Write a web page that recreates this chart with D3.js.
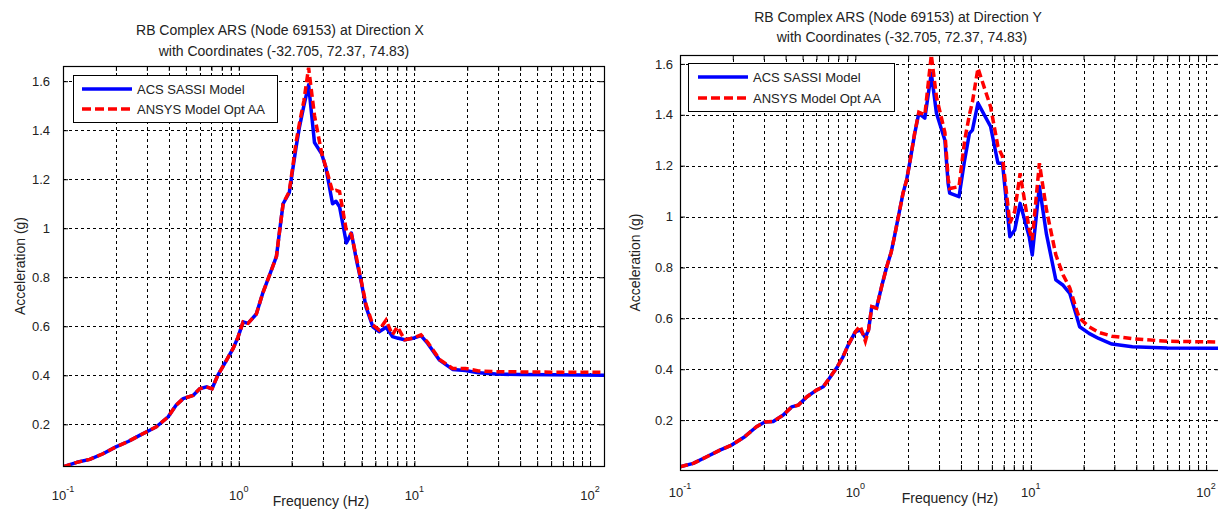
<!DOCTYPE html>
<html><head><meta charset="utf-8">
<script src="https://cdn.jsdelivr.net/npm/d3@7"></script>
<style>
body{margin:0;background:#fff;}
svg{display:block;font-family:"Liberation Sans",Arial,sans-serif;}
</style></head><body>
<svg id="c" width="1218" height="525"></svg>
<script>
// ---------- data ----------
const seriesNames = ["ACS SASSI Model", "ANSYS Model Opt AA"];
const titleX = ["RB Complex ARS (Node 69153) at Direction X", "with Coordinates (-32.705, 72.37, 74.83)"];
const titleY = ["RB Complex ARS (Node 69153) at Direction Y", "with Coordinates (-32.705, 72.37, 74.83)"];
const xLabel = "Frequency (Hz)";
const yLabel = "Acceleration (g)";
const yTickValues = [0.2, 0.4, 0.6, 0.8, 1, 1.2, 1.4, 1.6];
const yTickLabels = ["0.2", "0.4", "0.6", "0.8", "1", "1.2", "1.4", "1.6"];
const xMajorTicks = [0.1, 1, 10, 100];
const xMajorExponents = ["-1", "0", "1", "2"];

// Direction X
const freqX = [0.1, 0.12, 0.142, 0.169, 0.2, 0.235, 0.273, 0.31, 0.34, 0.396, 0.44, 0.483, 0.55, 0.6, 0.655, 0.705, 0.76, 0.85, 0.93, 0.99, 1.06, 1.13, 1.26, 1.37, 1.5, 1.64, 1.71, 1.79, 1.94, 2.03, 2.12, 2.22, 2.35, 2.5, 2.7, 2.96, 3.13, 3.42, 3.58, 3.75, 4.1, 4.38, 4.68, 5.0, 5.3, 5.8, 6.3, 6.9, 7.5, 8.0, 8.8, 9.8, 10.9, 11.9, 13.9, 16.5, 19.5, 23.2, 29, 40, 60, 90, 120];
const sassiX = [0.027, 0.045, 0.057, 0.08, 0.108, 0.13, 0.155, 0.175, 0.19, 0.23, 0.278, 0.305, 0.318, 0.345, 0.353, 0.345, 0.40, 0.46, 0.51, 0.555, 0.618, 0.612, 0.65, 0.735, 0.81, 0.885, 0.99, 1.10, 1.145, 1.24, 1.33, 1.415, 1.5, 1.585, 1.35, 1.305, 1.25, 1.10, 1.11, 1.088, 0.94, 0.98, 0.87, 0.776, 0.68, 0.598, 0.578, 0.596, 0.558, 0.552, 0.545, 0.551, 0.562, 0.53, 0.462, 0.424, 0.42, 0.41, 0.405, 0.403, 0.402, 0.401, 0.40];
const ansysX = [0.027, 0.045, 0.057, 0.08, 0.108, 0.13, 0.155, 0.175, 0.19, 0.23, 0.278, 0.305, 0.318, 0.345, 0.353, 0.345, 0.40, 0.46, 0.51, 0.555, 0.618, 0.612, 0.65, 0.735, 0.81, 0.885, 0.99, 1.10, 1.15, 1.25, 1.35, 1.43, 1.52, 1.655, 1.46, 1.31, 1.25, 1.15, 1.155, 1.15, 0.99, 0.975, 0.88, 0.78, 0.69, 0.605, 0.585, 0.625, 0.565, 0.598, 0.545, 0.552, 0.565, 0.535, 0.465, 0.428, 0.428, 0.418, 0.415, 0.414, 0.413, 0.413, 0.412];

// Direction Y
const freqY = [0.1, 0.119, 0.142, 0.169, 0.197, 0.234, 0.273, 0.305, 0.34, 0.388, 0.433, 0.473, 0.53, 0.6, 0.656, 0.71, 0.79, 0.85, 0.91, 1.0, 1.065, 1.14, 1.19, 1.24, 1.32, 1.41, 1.51, 1.6, 1.67, 1.79, 1.87, 1.96, 2.04, 2.18, 2.3, 2.49, 2.71, 2.9, 3.24, 3.38, 3.45, 3.9, 4.2, 4.47, 4.65, 5.0, 5.9, 6.5, 6.9, 7.6, 8.1, 8.7, 9.8, 10.2, 11.2, 12.3, 13.9, 15.3, 16.7, 18.3, 19, 21.5, 24.4, 29, 38, 60, 120];
const sassiY = [0.017, 0.03, 0.056, 0.082, 0.102, 0.135, 0.174, 0.193, 0.195, 0.22, 0.252, 0.259, 0.292, 0.318, 0.331, 0.364, 0.41, 0.449, 0.495, 0.547, 0.555, 0.525, 0.556, 0.646, 0.64, 0.724, 0.803, 0.86, 0.921, 1.026, 1.092, 1.144, 1.21, 1.327, 1.406, 1.387, 1.563, 1.406, 1.30, 1.13, 1.092, 1.078, 1.223, 1.327, 1.34, 1.446, 1.354, 1.21, 1.21, 0.921, 0.947, 1.052, 0.921, 0.849, 1.118, 0.93, 0.751, 0.73, 0.698, 0.606, 0.567, 0.541, 0.521, 0.499, 0.488, 0.483, 0.482];
const ansysY = [0.017, 0.03, 0.056, 0.082, 0.102, 0.135, 0.174, 0.193, 0.195, 0.22, 0.252, 0.259, 0.292, 0.318, 0.331, 0.364, 0.41, 0.449, 0.495, 0.547, 0.57, 0.51, 0.556, 0.646, 0.64, 0.724, 0.803, 0.86, 0.921, 1.026, 1.092, 1.144, 1.21, 1.33, 1.41, 1.40, 1.635, 1.47, 1.33, 1.15, 1.11, 1.118, 1.30, 1.40, 1.45, 1.583, 1.432, 1.275, 1.236, 0.974, 1.02, 1.17, 0.95, 0.908, 1.21, 1.026, 0.85, 0.77, 0.72, 0.63, 0.60, 0.567, 0.545, 0.53, 0.52, 0.51, 0.507];

// ---------- drawing ----------
const svg = d3.select("#c");

const panels = [
  {freq: freqX, a: sassiX, b: ansysX, title: titleX,
   x0: 63, x1: 604, y0: 66, y1: 466, xDom: [0.1, 120], yDom: [0.03, 1.662],
   titleCx: 280, titleY1: 35, titleY2: 56, yTickX: 50, xTickY: 500,
   yLabelX: 25, xLabelCx: 321, xLabelY: 506,
   leg: {x: 73, y: 75, w: 204, h: 47, l0: 82, l1: 132, tx: 137, r1: 89, r2: 109}},
  {freq: freqY, a: sassiY, b: ansysY, title: titleY,
   x0: 680, x1: 1220, y0: 55, y1: 470, xDom: [0.1, 120], yDom: [0.004, 1.635],
   titleCx: 898, titleY1: 22, titleY2: 42, yTickX: 673, xTickY: 497,
   yLabelX: 640, xLabelCx: 950, xLabelY: 503,
   leg: {x: 688, y: 63, w: 206, h: 48, l0: 698, l1: 748, tx: 753, r1: 77, r2: 98}}
];

const minorTicks = [];
[0.1, 1, 10, 100].forEach(d => { for (let k = 1; k <= 9; k++) { const v = d * k; if (v <= 120) minorTicks.push(v); } });

panels.forEach((p, i) => {
  const x = d3.scaleLog().domain(p.xDom).range([p.x0, p.x1]);
  const y = d3.scaleLinear().domain(p.yDom).range([p.y1, p.y0]);
  const g = svg.append("g");

  const clipId = "clip" + i;
  svg.append("clipPath").attr("id", clipId).append("rect")
    .attr("x", p.x0).attr("y", p.y0).attr("width", p.x1 - p.x0).attr("height", p.y1 - p.y0);

  // grid
  const grid = g.append("g").attr("stroke", "#000").attr("stroke-width", 1).attr("stroke-dasharray", "3,3");
  grid.selectAll("line.v").data(minorTicks.filter(v => v > 0.1)).join("line")
    .attr("x1", d => Math.round(x(d)) + 0.5).attr("x2", d => Math.round(x(d)) + 0.5)
    .attr("y1", p.y1).attr("y2", p.y0);
  grid.selectAll("line.h").data(yTickValues).join("line")
    .attr("class", "h")
    .attr("y1", d => Math.round(y(d)) + 0.5).attr("y2", d => Math.round(y(d)) + 0.5)
    .attr("x1", p.x0).attr("x2", p.x1);

  // axes ticks (inward) via d3 axes
  const axB = d3.axisBottom(x).tickValues(minorTicks).tickSize(-5).tickSizeOuter(0).tickFormat("");
  const axT = d3.axisTop(x).tickValues(minorTicks).tickSize(-5).tickSizeOuter(0).tickFormat("");
  const axL = d3.axisLeft(y).tickValues(yTickValues).tickSize(-5).tickSizeOuter(0).tickFormat("");
  const axR = d3.axisRight(y).tickValues(yTickValues).tickSize(-5).tickSizeOuter(0).tickFormat("");
  [[axB, `translate(0,${p.y1})`], [axT, `translate(0,${p.y0})`], [axL, `translate(${p.x0},0)`], [axR, `translate(${p.x1},0)`]]
    .forEach(([ax, tr]) => {
      const a = g.append("g").attr("transform", tr).call(ax);
      a.select(".domain").remove();
      a.selectAll("line").attr("stroke", "#000");
    });

  // curves
  const line = d3.line().x((d, j) => x(p.freq[j])).y(d => y(d));
  const cg = g.append("g").attr("clip-path", `url(#${clipId})`).attr("fill", "none");
  cg.append("path").datum(p.a).attr("d", line).attr("stroke", "#0000ff").attr("stroke-width", 3.5).attr("stroke-linejoin", "round");
  cg.append("path").datum(p.b).attr("d", line).attr("stroke", "#ff0000").attr("stroke-width", 3.5).attr("stroke-dasharray", "8,4");

  // frame
  g.append("rect").attr("x", p.x0 + 0.5).attr("y", p.y0 + 0.5).attr("width", p.x1 - p.x0).attr("height", p.y1 - p.y0)
    .attr("fill", "none").attr("stroke", "#000").attr("stroke-width", 1.2);

  // y tick labels
  g.selectAll("text.yt").data(yTickValues).join("text")
    .attr("x", p.yTickX).attr("y", d => y(d)).attr("dy", "0.36em")
    .attr("text-anchor", "end").attr("font-size", 13).attr("fill", "#222")
    .text((d, j) => yTickLabels[j]);

  // x tick labels with superscripts
  xMajorTicks.forEach((v, j) => {
    const t = g.append("text").attr("x", x(v)).attr("y", p.xTickY)
      .attr("text-anchor", "middle").attr("font-size", 13).attr("fill", "#222");
    t.append("tspan").text("10");
    t.append("tspan").attr("font-size", 9).attr("dy", -8).text(xMajorExponents[j]);
  });

  // titles
  g.append("text").attr("x", p.titleCx).attr("y", p.titleY1).attr("text-anchor", "middle")
    .attr("font-size", 14).attr("fill", "#222").text(p.title[0]);
  g.append("text").attr("x", p.titleCx + 4).attr("y", p.titleY2).attr("text-anchor", "middle")
    .attr("font-size", 14).attr("fill", "#222").text(p.title[1]);

  // axis labels
  g.append("text").attr("x", p.xLabelCx).attr("y", p.xLabelY).attr("text-anchor", "middle")
    .attr("font-size", 14).attr("fill", "#222").text(xLabel);
  g.append("text").attr("transform", `translate(${p.yLabelX},${(p.y0 + p.y1) / 2}) rotate(-90)`)
    .attr("text-anchor", "middle").attr("font-size", 14).attr("fill", "#222").text(yLabel);

  // legend
  const L = p.leg;
  const lg = g.append("g");
  lg.append("rect").attr("x", L.x + 0.5).attr("y", L.y + 0.5).attr("width", L.w).attr("height", L.h)
    .attr("fill", "#fff").attr("stroke", "#000").attr("stroke-width", 1);
  lg.append("line").attr("x1", L.l0).attr("x2", L.l1).attr("y1", L.r1).attr("y2", L.r1)
    .attr("stroke", "#0000ff").attr("stroke-width", 3.5);
  lg.append("line").attr("x1", L.l0).attr("x2", L.l1).attr("y1", L.r2).attr("y2", L.r2)
    .attr("stroke", "#ff0000").attr("stroke-width", 3.5).attr("stroke-dasharray", "9,4");
  [L.r1, L.r2].forEach((ry, j) => {
    lg.append("text").attr("x", L.tx).attr("y", ry).attr("dy", "0.35em")
      .attr("font-size", 13).attr("fill", "#222").text(seriesNames[j]);
  });
});
</script>
</body></html>
